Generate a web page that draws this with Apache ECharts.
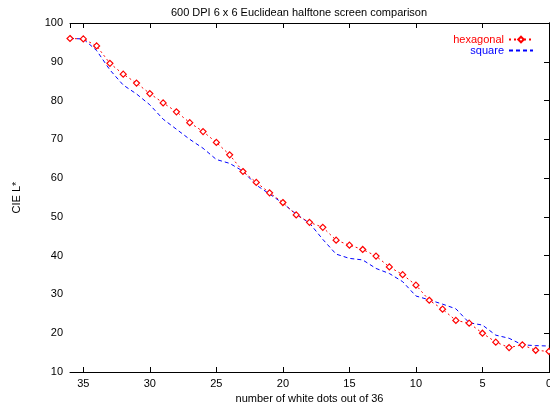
<!DOCTYPE html>
<html>
<head>
  <meta charset="utf-8">
  <title>600 DPI halftone comparison</title>
  <script src="https://cdn.jsdelivr.net/npm/echarts@6/dist/echarts.min.js"></script>
</head>
<style>
  html, body, #chart { margin: 0; padding: 0; width: 550px; height: 402px; background: #fff; }
</style>
<body>
  <div id="chart"></div>
  <script>
    // white dots out of 36, from 36 down to 0
    var dots = [36, 35, 34, 33, 32, 31, 30, 29, 28, 27, 26, 25, 24, 23, 22, 21, 20, 19,
                18, 17, 16, 15, 14, 13, 12, 11, 10, 9, 8, 7, 6, 5, 4, 3, 2, 1, 0];
    var hexagonal = [96.0, 95.9, 94.1, 89.6, 86.8, 84.5, 81.8, 79.4, 77.1, 74.3, 72.0, 69.2, 66.0,
                     61.7, 58.9, 56.2, 53.7, 50.5, 48.6, 47.3, 44.0, 42.7, 41.6, 39.9, 37.1, 35.1,
                     32.4, 28.5, 26.2, 23.3, 22.6, 20.0, 17.7, 16.3, 17.0, 15.6, 15.3];
    var square = [96.0, 95.9, 92.9, 87.9, 84.0, 81.7, 78.9, 75.2, 72.6, 70.0, 67.7, 64.8, 63.8,
                  61.8, 58.2, 55.9, 53.5, 50.7, 48.4, 44.2, 40.4, 39.3, 38.9, 36.7, 35.4, 33.3,
                  29.6, 28.6, 27.5, 26.3, 22.7, 22.1, 19.5, 18.7, 17.0, 16.8, 16.7];

    var font = 'Liberation Sans, Arial, sans-serif';
    function pairs(ys) {
      return dots.map(function (d, i) { return [d, ys[i]]; });
    }

    var chart = echarts.init(document.getElementById('chart'));
    chart.setOption({
      animation: false,
      title: {
        text: '600 DPI 6 x 6 Euclidean halftone screen comparison',
        left: 294, top: 2, textAlign: 'center',
        textStyle: { fontFamily: font, fontSize: 11, fontWeight: 'normal', color: '#000' }
      },
      legend: {
        right: 11, top: 29, orient: 'vertical', align: 'right',
        itemWidth: 24, itemHeight: 7, itemGap: 0,
        textStyle: { fontFamily: font, fontSize: 11 },
        data: [
          { name: 'hexagonal', textStyle: { color: '#ff0000' } },
          { name: 'square', textStyle: { color: '#0000ff' },
            itemStyle: { color: 'transparent', borderWidth: 0 } }
        ]
      },
      grid: { left: 70, right: 1, top: 23, bottom: 30, outerBoundsMode: 'none' },
      xAxis: [{
        type: 'value', min: 0, max: 36, interval: 5, inverse: true,
        name: 'number of white dots out of 36', nameLocation: 'middle', nameGap: 13,
        nameTextStyle: { fontFamily: font, fontSize: 11, color: '#000' },
        axisLine: { lineStyle: { color: '#000', width: 1 } },
        axisTick: { inside: true, length: 5, lineStyle: { color: '#000' } },
        axisLabel: { fontFamily: font, fontSize: 11, color: '#000', margin: 6, showMaxLabel: false },
        splitLine: { show: false }
      }, {
        type: 'value', min: 0, max: 36, interval: 5, inverse: true, position: 'top',
        axisLine: { lineStyle: { color: '#000', width: 1 } },
        axisTick: { inside: true, length: 5, lineStyle: { color: '#000' } },
        axisLabel: { show: false },
        splitLine: { show: false }
      }],
      yAxis: [{
        type: 'value', min: 10, max: 100, interval: 10,
        name: 'CIE L*', nameLocation: 'middle', nameGap: 48,
        nameTextStyle: { fontFamily: font, fontSize: 11, color: '#000' },
        axisLine: { show: true, lineStyle: { color: '#000', width: 1 } },
        axisTick: { show: true, inside: true, length: 5, lineStyle: { color: '#000' } },
        axisLabel: { fontFamily: font, fontSize: 11, color: '#000', margin: 7 },
        splitLine: { show: false }
      }, {
        type: 'value', min: 10, max: 100, interval: 10, position: 'right',
        axisLine: { show: true, lineStyle: { color: '#000', width: 1 } },
        axisTick: { show: true, inside: true, length: 5, lineStyle: { color: '#000' } },
        axisLabel: { show: false },
        splitLine: { show: false }
      }],
      series: [{
        name: 'hexagonal', type: 'line',
        data: pairs(hexagonal),
        symbol: 'diamond', symbolSize: 6, showSymbol: true,
        itemStyle: { color: '#fff', borderColor: '#ff0000', borderWidth: 1.2 },
        lineStyle: { color: '#ff0000', width: 1, type: [2, 3] },
        z: 3
      }, {
        name: 'square', type: 'line',
        data: pairs(square),
        symbol: 'none',
        itemStyle: { color: '#0000ff' },
        lineStyle: { color: '#0000ff', width: 1, type: [4, 3] },
        z: 2
      }]
    });
  </script>
</body>
</html>
